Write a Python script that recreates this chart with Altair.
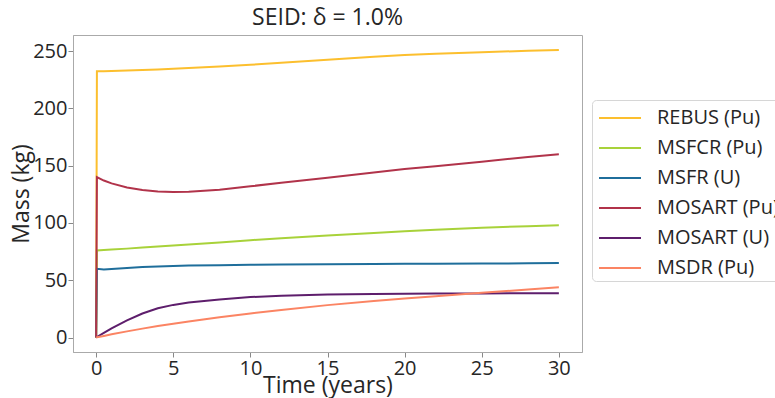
import altair as alt
import pandas as pd

times = [0, 0.05, 0.5, 1, 2, 3, 4, 5, 6, 8, 10, 12, 15, 18, 20, 22, 25, 28, 30]

series_names = ["REBUS (Pu)", "MSFCR (Pu)", "MSFR (U)", "MOSART (Pu)", "MOSART (U)", "MSDR (Pu)"]
colors = ["#fcbf2e", "#a8d23a", "#1f6e9b", "#b1334a", "#5e1e6c", "#fb8463"]

rebus = [0, 232.3, 232.4, 232.6, 233.0, 233.5, 234.0, 234.6, 235.2, 236.5, 238.0, 239.8, 242.3, 245.0, 246.5, 247.6, 249.0, 250.2, 251.0]
msfcr = [0, 76.0, 76.4, 76.8, 77.6, 78.5, 79.4, 80.3, 81.2, 83.0, 85.0, 86.6, 89.0, 91.3, 92.7, 94.0, 95.8, 97.2, 98.0]
msfr = [0, 60.0, 59.4, 59.8, 60.8, 61.6, 62.1, 62.5, 62.8, 63.2, 63.5, 63.7, 64.0, 64.2, 64.3, 64.4, 64.6, 64.8, 65.0]
mosart_pu = [0, 140.0, 137.0, 134.5, 131.0, 128.8, 127.5, 127.0, 127.2, 129.0, 132.0, 135.0, 139.5, 144.0, 147.0, 149.5, 153.5, 157.5, 160.0]
mosart_u = [0, 0.5, 4.0, 8.0, 15.0, 21.0, 25.5, 28.5, 30.5, 33.3, 35.3, 36.5, 37.5, 38.0, 38.3, 38.4, 38.5, 38.6, 38.7]
msdr = [0, 0.2, 1.4, 2.8, 5.4, 7.8, 10.0, 12.0, 14.0, 17.7, 21.0, 24.0, 28.3, 32.0, 34.0, 36.0, 39.0, 42.0, 44.0]

x_ticks = [0, 5, 10, 15, 20, 25, 30]
y_ticks = [0, 50, 100, 150, 200, 250]

all_series = [rebus, msfcr, msfr, mosart_pu, mosart_u, msdr]
rows = []
for idx, (name, vals) in enumerate(zip(series_names, all_series)):
    for t, v in zip(times, vals):
        rows.append({"t": t, "mass": v, "series": name, "k": idx})
df = pd.DataFrame(rows)

FONT = "Open Sans"

chart = alt.Chart(df).mark_line(strokeWidth=2).encode(
    x=alt.X("t:Q",
            scale=alt.Scale(domain=[-1.5, 31.5], nice=False, zero=False),
            axis=alt.Axis(values=x_ticks, title="Time (years)", format="d",
                          titleY=40, titleBaseline="alphabetic")),
    y=alt.Y("mass:Q",
            scale=alt.Scale(domain=[-12.6, 264], nice=False, zero=False),
            axis=alt.Axis(values=y_ticks, title="Mass (kg)", format="d",
                          titleX=-52, titleBaseline="middle")),
    color=alt.Color("series:N",
                    scale=alt.Scale(domain=series_names, range=colors),
                    legend=alt.Legend(title=None, orient="none", legendX=519, legendY=65,
                                      symbolType="M-1.5,0H1.5", symbolStrokeWidth=2,
                                      symbolSize=784, symbolOffset=10,
                                      labelFontSize=20, labelFont=FONT,
                                      labelColor="#262626", labelOffset=22,
                                      rowPadding=5, padding=3,
                                      strokeColor="#d6d6d6", fillColor="white",
                                      cornerRadius=4)),
    order=alt.Order("k:Q"),
).properties(
    width=509, height=317,
    title=alt.Title("SEID: δ = 1.0%", fontSize=23, font=FONT, fontWeight="normal",
                    color="#262626", offset=5),
    autosize=alt.AutoSizeParams(type="none"),
    padding={"left": 73, "top": 35, "right": 193, "bottom": 46},
).configure_view(
    stroke="#aaaaaa", strokeWidth=1
).configure_axis(
    grid=False, labelFont=FONT, titleFont=FONT, labelFontSize=20, titleFontSize=23,
    titleFontWeight="normal", labelColor="#262626", titleColor="#262626",
    domainColor="#aaaaaa", tickColor="#888888", tickSize=5, labelPadding=1
)

chart.save("out.html", embed_options={"renderer": "svg", "actions": False})
